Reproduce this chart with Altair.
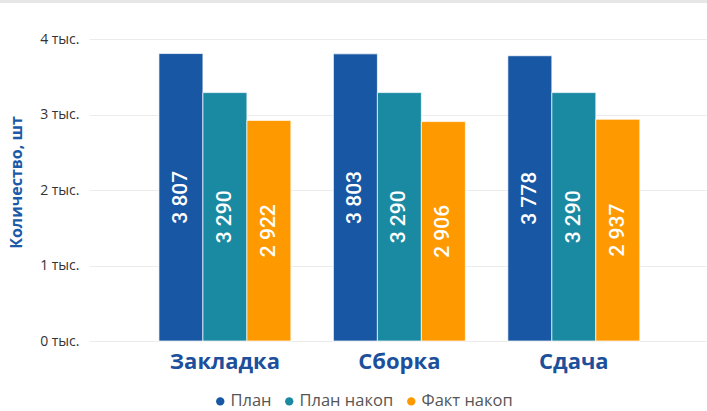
import altair as alt
import pandas as pd

categories = ["Закладка", "Сборка", "Сдача"]
series_names = ["План", "План накоп", "Факт накоп"]
plan = [3807, 3803, 3778]
plan_nakop = [3290, 3290, 3290]
fakt_nakop = [2922, 2906, 2937]
colors = ["#1757a4", "#1a8aa3", "#ff9900"]
y_ticks = [0, 1000, 2000, 3000, 4000]

rows = []
for s, vals in zip(series_names, [plan, plan_nakop, fakt_nakop]):
    for c, v in zip(categories, vals):
        rows.append({"cat": c, "series": s, "value": v,
                     "label": f"{v:,}".replace(",", " ")})
df = pd.DataFrame(rows)

x_enc = alt.X("cat:N", sort=categories,
              scale=alt.Scale(paddingInner=0.2436, paddingOuter=0.393, align=0.51),
              axis=alt.Axis(title=None, labelAngle=0, domain=False, ticks=False,
                            grid=False, labelPadding=10, labelFontSize=22,
                            labelFont="Open Sans", labelFontWeight="bold",
                            labelColor="#1c4f9c"))
xo_enc = alt.XOffset("series:N", sort=series_names,
                     scale=alt.Scale(paddingInner=0, paddingOuter=0))

base = alt.Chart(df)

bars = base.mark_bar(stroke="white", strokeWidth=1, strokeOpacity=0.7).encode(
    x=x_enc,
    xOffset=xo_enc,
    y=alt.Y("value:Q",
            scale=alt.Scale(domain=[0, 4000], nice=False),
            axis=alt.Axis(values=y_ticks,
                          labelExpr="datum.value / 1000 + ' тыс.'",
                          grid=True, gridColor="#ececec", ticks=False,
                          domain=False, labelPadding=10, labelFontSize=14,
                          labelFont="Open Sans", labelColor="#333333",
                          title="Количество, шт", titleFontSize=16,
                          titleFont="Open Sans", titleFontWeight="bold",
                          titleColor="#1a5aa8", titleX=-73, titleY=143,
                          titleAngle=270, titleBaseline="middle",
                          titleAlign="center")),
    color=alt.Color("series:N", sort=series_names,
                    scale=alt.Scale(domain=series_names, range=colors),
                    legend=alt.Legend(title=None, orient="none",
                                      direction="horizontal",
                                      legendX=123, legendY=354,
                                      symbolType="circle", symbolSize=70,
                                      symbolStrokeWidth=0,
                                      labelFontSize=16.5, labelFont="Open Sans",
                                      labelColor="#555555", labelOffset=2,
                                      columnPadding=9)),
)

labels = base.transform_calculate(mid="datum.value / 2").mark_text(
    angle=270, align="center", baseline="middle", color="white",
    fontSize=21, font="Roboto", fontWeight=500).encode(
    x=alt.X("cat:N", sort=categories),
    xOffset=alt.XOffset("series:N", sort=series_names),
    y=alt.Y("mid:Q"),
    text="label:N",
)

top_band = alt.Chart(pd.DataFrame({"k": [0]})).mark_rule(
    color="#e6e6e6", strokeWidth=3).encode(
    x=alt.value(-89), x2=alt.value(618), y=alt.value(-37.5))

chart = alt.layer(bars, labels, top_band).properties(
    width=618, height=302,
    padding={"left": 89, "top": 39, "right": 0, "bottom": 70},
    autosize=alt.AutoSizeParams(type="none"),
    background="white",
).configure_view(stroke=None)

chart.save("out.html", embed_options={"renderer": "svg", "actions": False})
